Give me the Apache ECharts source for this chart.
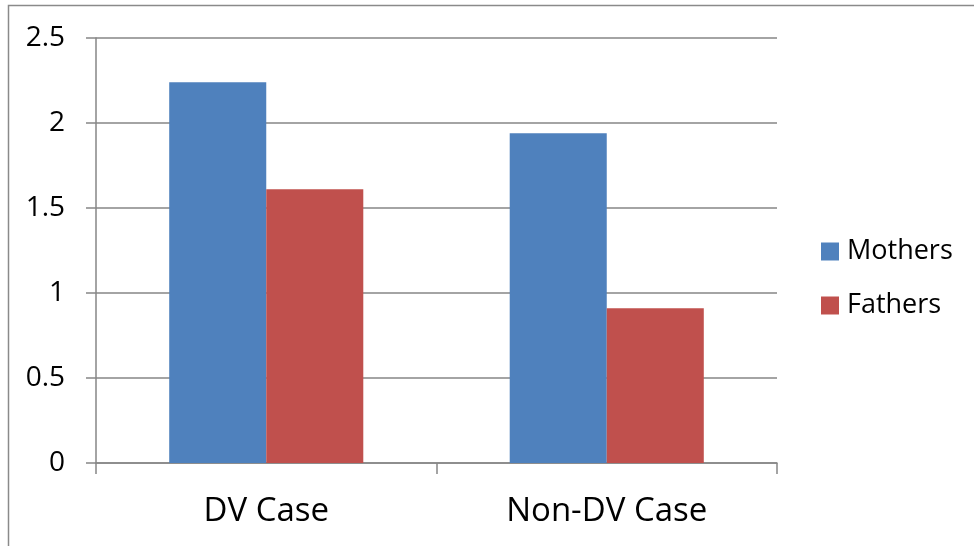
<!DOCTYPE html>
<html lang="en" style="height: 100%">

<head>
  <meta charset="utf-8" />
</head>

<body style="height: 100%; margin: 0; background: #ffffff">
  <div id="container" style="width: 974px; height: 546px"></div>

  <script type="text/javascript" src="https://fastly.jsdelivr.net/npm/echarts@6.0.0/dist/echarts.min.js"></script>

  <script type="text/javascript">
    // chart data
    var categories = ["DV Case", "Non-DV Case"];
    var seriesNames = ["Mothers", "Fathers"];
    var mothers = [2.24, 1.94];
    var fathers = [1.61, 0.91];
    var yTicks = [0, 0.5, 1, 1.5, 2, 2.5];

    var FONT = "Open Sans";
    var GRAY = "#868686";

    var dom = document.getElementById("container");
    var myChart = echarts.init(dom, null, { renderer: "canvas" });
    var option;

    option = {
      animation: false,
      backgroundColor: "#ffffff",
      color: ["#4F81BD", "#C0504D"],
      graphic: [
        {
          type: "rect",
          shape: { x: 8.5, y: 5.5, width: 1000, height: 600 },
          style: { fill: "none", stroke: "#8a8a8a", lineWidth: 1.5 },
          silent: true,
        },
      ],
      grid: {
        left: 96,
        right: 197,
        top: 38,
        bottom: 83,
        containLabel: false,
      },
      legend: {
        orient: "vertical",
        left: 816,
        top: 233,
        icon: "rect",
        itemWidth: 18,
        itemHeight: 18,
        itemGap: 27,
        data: seriesNames,
        textStyle: {
          fontFamily: FONT,
          fontSize: 27,
          color: "#000000",
          padding: [0, 0, 0, 3],
        },
      },
      xAxis: {
        type: "category",
        data: categories,
        axisLine: { lineStyle: { color: GRAY, width: 1.5 } },
        axisTick: { show: true, length: 11, lineStyle: { color: GRAY, width: 1.5 } },
        axisLabel: {
          fontFamily: FONT,
          fontSize: 33,
          color: "#000000",
          margin: 32,
        },
      },
      yAxis: {
        type: "value",
        min: yTicks[0],
        max: yTicks[yTicks.length - 1],
        interval: 0.5,
        axisLine: { show: true, lineStyle: { color: GRAY, width: 1.5 } },
        axisTick: { show: true, length: 10, lineStyle: { color: GRAY, width: 1.5 } },
        splitLine: { show: true, lineStyle: { color: GRAY, width: 1.5 } },
        axisLabel: {
          fontFamily: FONT,
          fontSize: 28,
          color: "#000000",
          margin: 31,
        },
      },
      series: [
        {
          name: seriesNames[0],
          type: "bar",
          data: mothers,
          barGap: "0%",
          barCategoryGap: "43%",
        },
        {
          name: seriesNames[1],
          type: "bar",
          data: fathers,
          barGap: "0%",
          barCategoryGap: "43%",
        },
      ],
    };

    myChart.setOption(option);
    window.addEventListener("resize", myChart.resize);
  </script>
</body>

</html>
